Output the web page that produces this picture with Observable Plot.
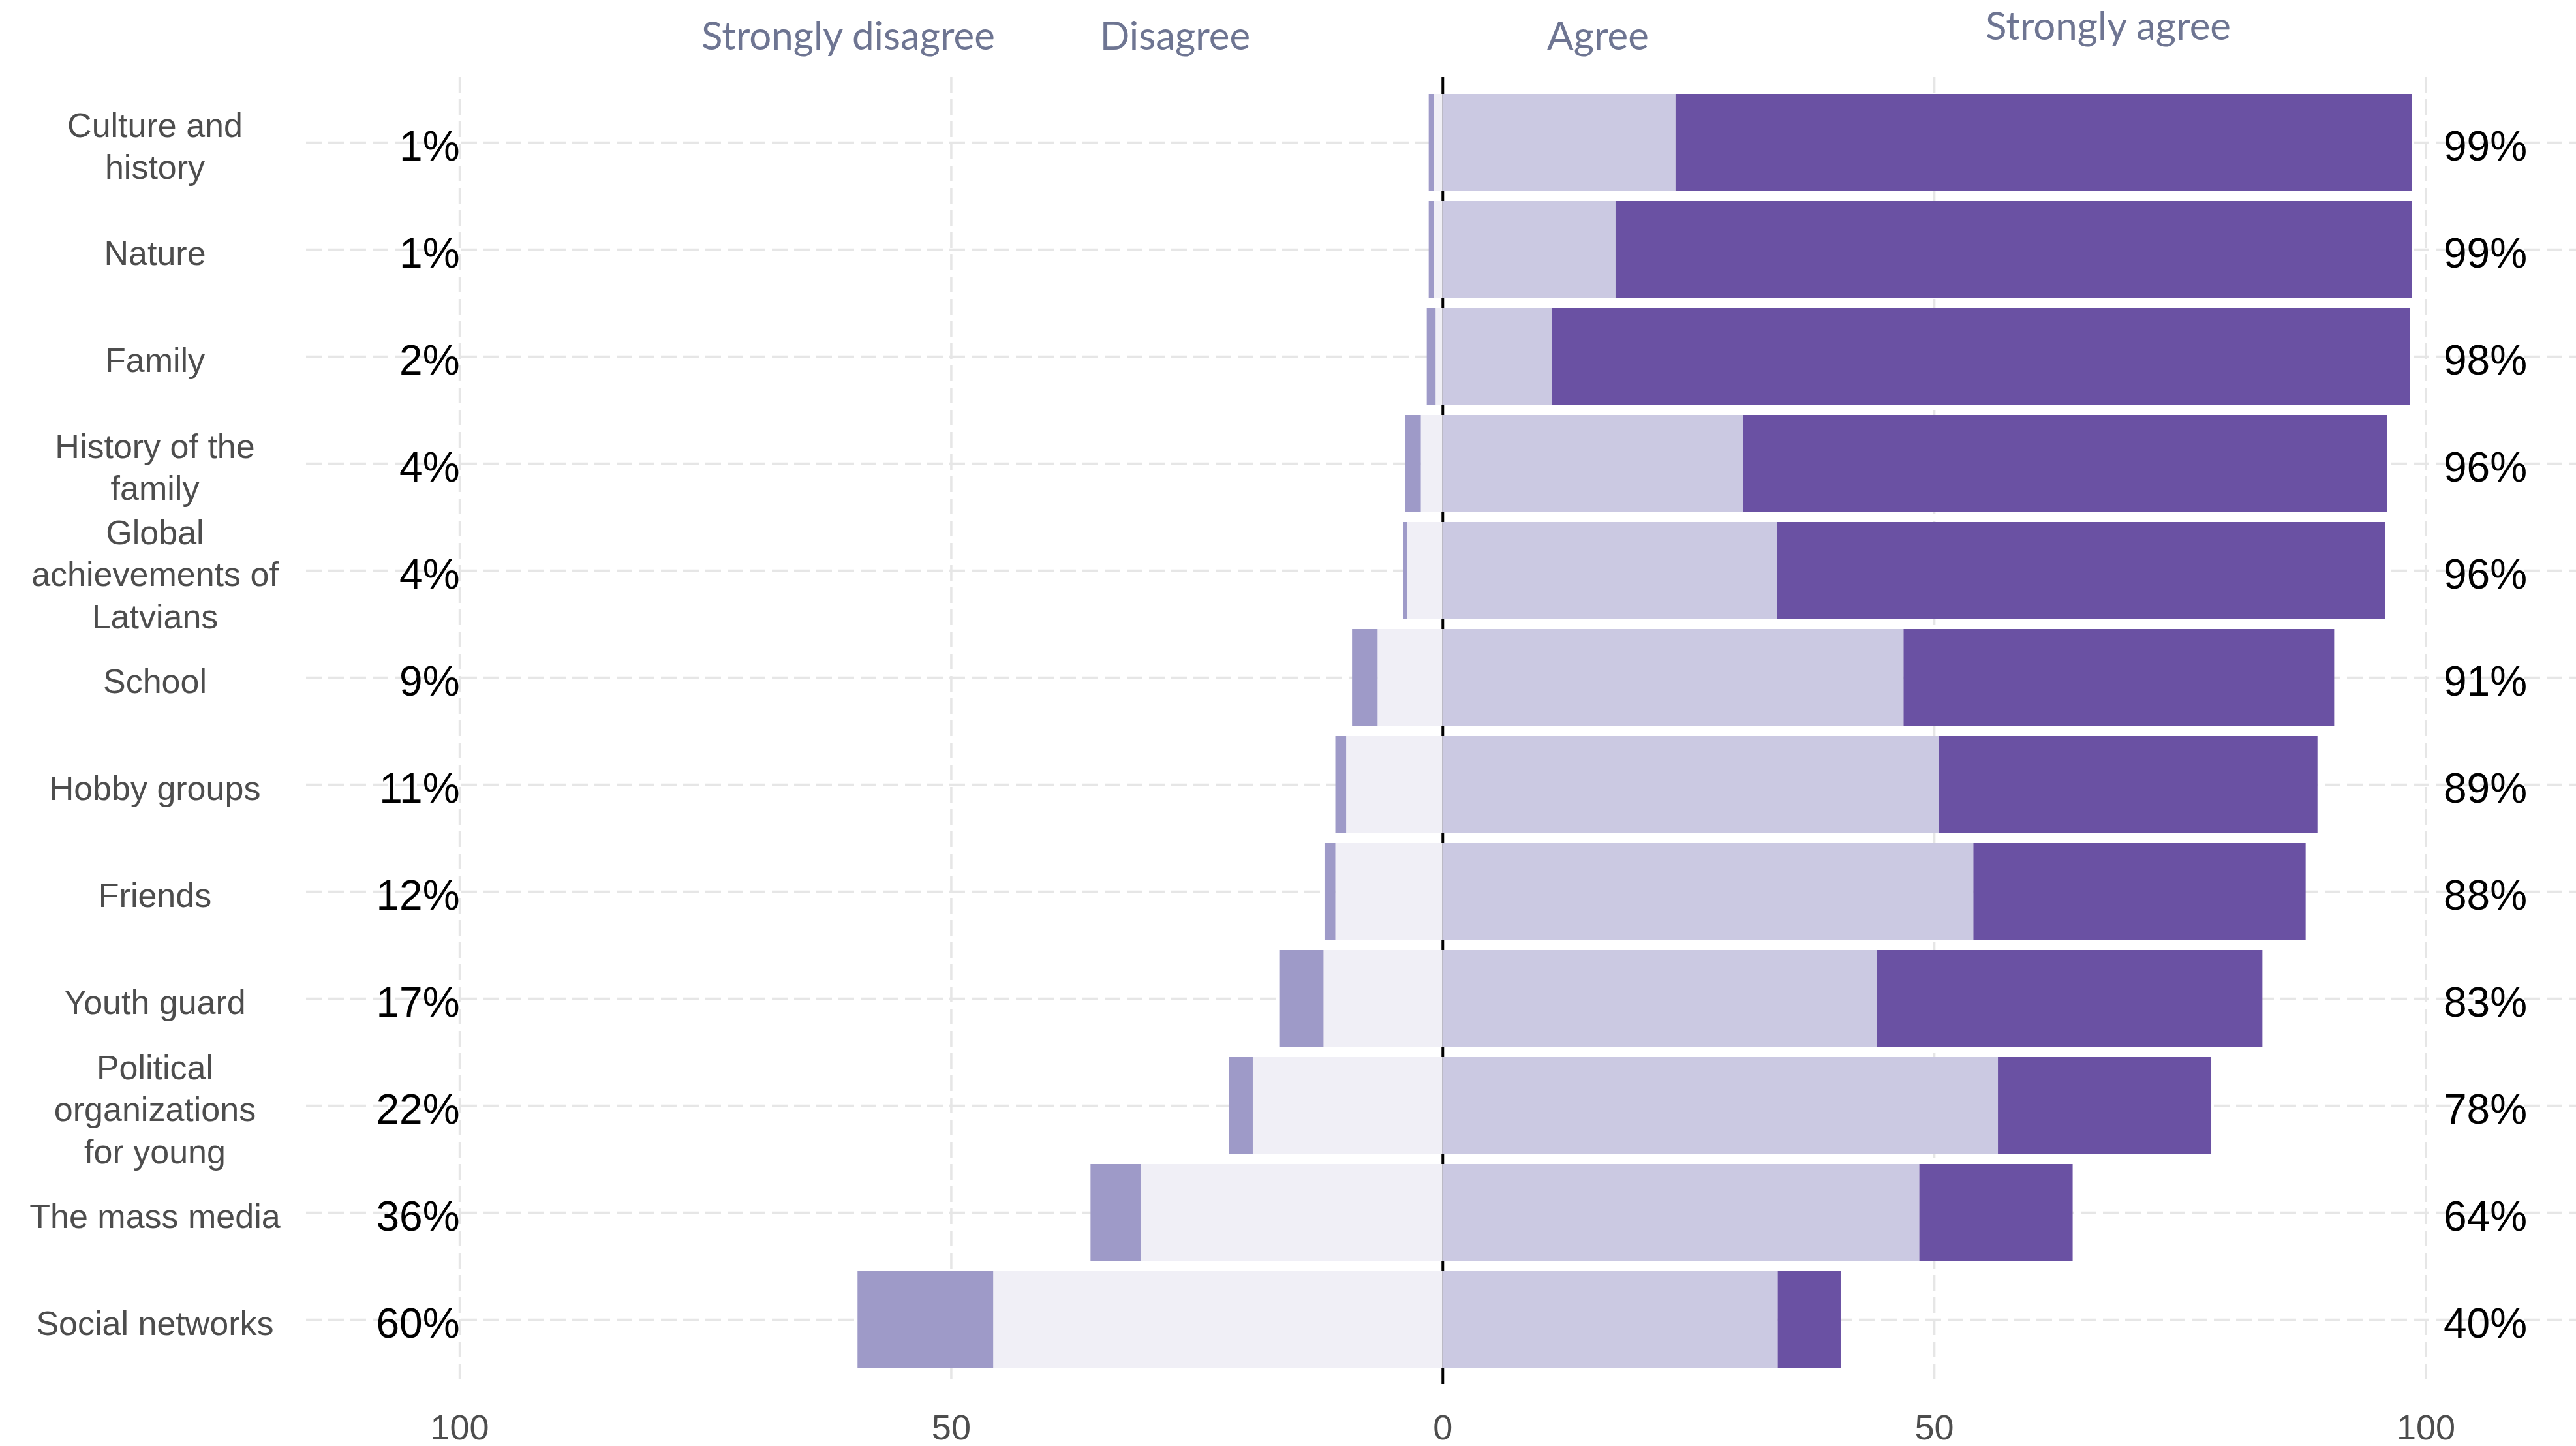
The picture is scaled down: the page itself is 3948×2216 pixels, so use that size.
<!DOCTYPE html>
<html>
<head>
<meta charset="utf-8">
<script src="https://cdn.jsdelivr.net/npm/d3@7"></script>
<script src="https://cdn.jsdelivr.net/npm/@observablehq/plot@0.6"></script>
<style>
  html, body { margin: 0; padding: 0; background: #ffffff; }
  #legend svg, #chart svg { display: block; }
</style>
</head>
<body>
<div id="legend"></div>
<div id="chart"></div>
<script>
// ---------- data ----------
const categories = [
  "Culture and history", "Nature", "Family", "History of the family",
  "Global achievements of Latvians", "School", "Hobby groups", "Friends",
  "Youth guard", "Political organizations for young", "The mass media", "Social networks"
];
const categoryLabels = [
  "Culture and\nhistory", "Nature", "Family", "History of the\nfamily",
  "Global\nachievements of\nLatvians", "School", "Hobby groups", "Friends",
  "Youth guard", "Political\norganizations\nfor young", "The mass media", "Social networks"
];
const responses = ["Strongly disagree", "Disagree", "Agree", "Strongly agree"];
const stronglyDisagree = [0.5, 0.5, 0.9, 1.6, 0.4, 2.6, 1.1, 1.1, 4.5, 2.4, 5.1, 13.8];
const disagree         = [0.9, 0.9, 0.7, 2.2, 3.6, 6.6, 9.8, 10.9, 12.1, 19.3, 30.7, 45.7];
const agree            = [23.7, 17.6, 11.1, 30.6, 34.0, 46.9, 50.5, 54.0, 44.2, 56.5, 48.5, 34.1];
const stronglyAgree    = [74.9, 81.0, 87.3, 65.5, 61.9, 43.8, 38.5, 33.8, 39.2, 21.7, 15.6, 6.4];
const disagreeLabels = ["1%", "1%", "2%", "4%", "4%", "9%", "11%", "12%", "17%", "22%", "36%", "60%"];
const agreeLabels    = ["99%", "99%", "98%", "96%", "96%", "91%", "89%", "88%", "83%", "78%", "64%", "40%"];
const xTicks = [-100, -50, 0, 50, 100];

// ---------- styling ----------
const colors = ["#9e9ac8", "#f0eff6", "#cbc9e2", "#6a51a3"];
const W = 3948, H = 2216, legendH = 118;
const legendPos = [
  {x: 1300, y: 76}, {x: 1801, y: 76}, {x: 2449, y: 76}, {x: 3231, y: 61}
];

// ---------- tidy table ----------
const rows = [];
categories.forEach((c, i) => {
  rows.push({category: c, response: "Disagree", value: -disagree[i]});
  rows.push({category: c, response: "Strongly disagree", value: -stronglyDisagree[i]});
  rows.push({category: c, response: "Agree", value: agree[i]});
  rows.push({category: c, response: "Strongly agree", value: stronglyAgree[i]});
});

// ---------- legend (text only, above the plot) ----------
const lsvg = d3.select("#legend").append("svg")
  .attr("width", W).attr("height", legendH);
lsvg.selectAll("text").data(responses).join("text")
  .attr("x", (d, i) => legendPos[i].x)
  .attr("y", (d, i) => legendPos[i].y)
  .attr("text-anchor", "middle")
  .attr("font-family", "Lato, 'Open Sans', sans-serif")
  .attr("font-size", 60)
  .attr("fill", "#6e7592")
  .text(d => d);

// ---------- chart ----------
const gridStyle = {stroke: "#e6e6e6", strokeOpacity: 1, strokeWidth: 3.5, strokeDasharray: "24 10"};
const chart = Plot.plot({
  width: W,
  height: H - legendH,
  marginLeft: 469,
  marginRight: 0,
  marginTop: 0,
  marginBottom: 95,
  style: {fontFamily: "'Liberation Sans', Arial, sans-serif", background: "#ffffff", overflow: "visible"},
  x: {domain: [-115.6, 115.3]},
  y: {domain: categories, paddingInner: 0.1, paddingOuter: 0.15, axis: null},
  color: {domain: responses, range: colors},
  marks: [
    Plot.gridX(xTicks, gridStyle),
    Plot.gridY(categories, gridStyle),
    Plot.ruleX([0], {stroke: "#000000", strokeWidth: 4}),
    Plot.barX(rows, Plot.stackX({
      x: "value", y: "category", fill: "response",
      order: ["Disagree", "Strongly disagree", "Agree", "Strongly agree"]
    })),
    Plot.text(categories, {
      y: d => d, text: (d, i) => categoryLabels[i],
      frameAnchor: "left", dx: -232, textAnchor: "middle",
      fontFamily: "'Liberation Sans', Arial, sans-serif",
      fontSize: 52, lineHeight: 1.24, fill: "#4d4d4d", dy: 3
    }),
    Plot.text(categories, {
      x: () => -100, y: d => d, text: (d, i) => disagreeLabels[i],
      textAnchor: "end", fontSize: 64, fill: "#000000", dy: 7
    }),
    Plot.text(categories, {
      x: () => 100, y: d => d, text: (d, i) => agreeLabels[i],
      textAnchor: "start", dx: 27, fontSize: 64, fill: "#000000", dy: 7
    }),
    Plot.axisX({
      ticks: xTicks, tickFormat: d => Math.abs(d), tickSize: 0, tickPadding: 46,
      fontSize: 54, fill: "#4d4d4d", label: null
    })
  ]
});
document.getElementById("chart").appendChild(chart);
</script>
</body>
</html>
